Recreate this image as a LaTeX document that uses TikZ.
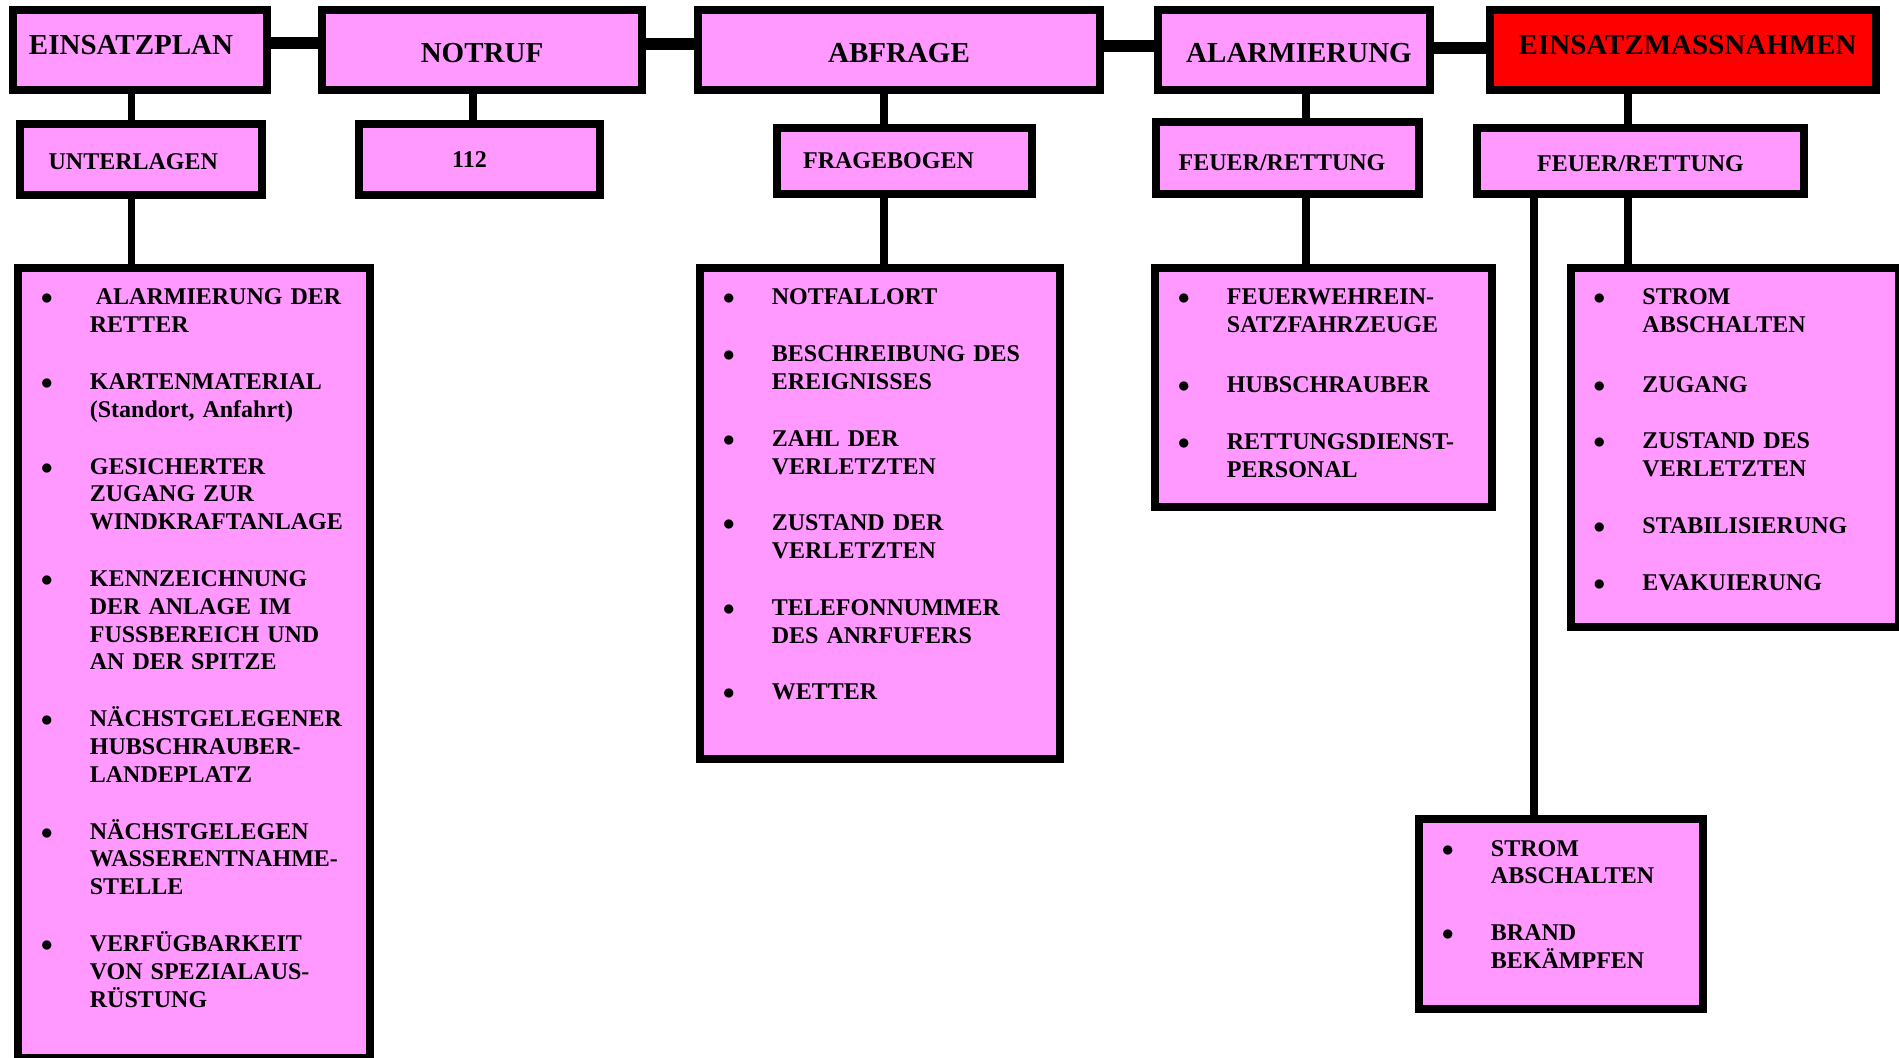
\documentclass[tikz,border=0pt]{standalone}
\usepackage{fontspec}
\setmainfont{Liberation Serif}
\definecolor{rosa}{HTML}{FF99FF}
\definecolor{rot}{HTML}{FF0000}
\newcommand\listsetup{\fontsize{12}{13.93}\selectfont\bfseries\parskip=14.4pt\lineskiplimit=-20pt\lineskip=0pt}
\newcommand\punkt[1]{\hangindent=23.5pt\hangafter=0\noindent\llap{\makebox[23.5pt][l]{\hspace*{-1pt}$\bullet$}}#1\par}
\tikzset{
  box/.style={draw=black, line width=4pt, fill=rosa, inner sep=0pt},
  kopf/.style={box, font=\fontsize{14.5}{17}\selectfont\bfseries, minimum height=40pt, text height=12.5pt, text depth=0pt},
  unter/.style={box, font=\fontsize{12}{14}\selectfont\bfseries, text height=7.9pt, text depth=0pt},
  punkte/.style={anchor=base west, inner sep=0pt, text width=165pt, align=left, font=\listsetup},
  quer/.style={line width=5.8pt},
  stiel/.style={line width=3.65pt},
}
\begin{document}
\begin{tikzpicture}[x=0.5pt, y=-0.5pt]
\useasboundingbox (0,0) rectangle (1899,1058);

\node[kopf, minimum width=127pt, text height=4.6pt] (plan) at (140,50) {EINSATZPLAN\hspace*{9pt}};
\node[kopf, minimum width=160pt] (notruf) at (482,50) {NOTRUF};
\node[kopf, minimum width=201pt] (abfrage) at (899,50) {ABFRAGE};
\node[kopf, minimum width=136pt] (alarm) at (1294,50) {\hspace*{5pt}ALARMIERUNG};
\node[kopf, minimum width=193pt, fill=rot, text height=4.6pt] (massn) at (1683,50) {\hspace*{4.6pt}EINSATZMASSNAHMEN};

\node[unter, minimum width=121pt, minimum height=35.5pt, text height=10.3pt] (unterlagen) at (141,159.5) {UNTERLAGEN\hspace*{7.7pt}};
\node[unter, minimum width=120.5pt, minimum height=35.5pt] (nr112) at (479.5,159.5) {112\hspace*{10pt}};
\node[unter, minimum width=127.5pt, minimum height=33pt] (frage) at (904.5,161) {FRAGEBOGEN\hspace*{16pt}};
\node[unter, minimum width=131.5pt, minimum height=36pt, text height=12.9pt] (feuera) at (1287.5,158) {FEUER/RETTUNG\hspace*{5.5pt}};
\node[unter, minimum width=163.5pt, minimum height=33pt, text height=10.3pt] (feuerb) at (1640.5,161) {FEUER/RETTUNG};

\node[box, minimum width=176pt, minimum height=395pt] (lplan) at (194,663) {};
\node[box, minimum width=180pt, minimum height=245.5pt] (lfrage) at (880,513.5) {};
\node[box, minimum width=168.5pt, minimum height=119.5pt] (lalarm) at (1323.5,387.5) {};
\node[box, minimum width=164pt, minimum height=179.5pt] (lmassn) at (1735,447.5) {};
\node[box, minimum width=142pt, minimum height=95pt] (lstrom) at (1561,914) {};

\draw[quer] ([yshift=3.35pt]plan.east) -- ([yshift=3.35pt]plan.east -| notruf.west);
\draw[quer] ([yshift=3.1pt]notruf.east) -- ([yshift=3.1pt]notruf.east -| abfrage.west);
\draw[quer] ([yshift=1.85pt]abfrage.east) -- ([yshift=1.85pt]abfrage.east -| alarm.west);
\draw[quer] ([yshift=0.85pt]alarm.east) -- ([yshift=0.85pt]alarm.east -| massn.west);

\draw[stiel] ([xshift=-4.25pt]plan.south) -- ([xshift=-4.25pt]plan.south |- unterlagen.north);
\draw[stiel] ([xshift=-4.75pt]unterlagen.south) -- ([xshift=-4.75pt]unterlagen.south |- lplan.north);
\draw[stiel] ([xshift=-4.5pt]notruf.south) -- ([xshift=-4.5pt]notruf.south |- nr112.north);
\draw[stiel] ([xshift=-7.5pt]abfrage.south) -- ([xshift=-7.5pt]abfrage.south |- frage.north);
\draw[stiel] ([xshift=-10.25pt]frage.south) -- ([xshift=-10.25pt]frage.south |- lfrage.north);
\draw[stiel] ([xshift=6pt]alarm.south) -- ([xshift=6pt]alarm.south |- feuera.north);
\draw[stiel] ([xshift=9.25pt]feuera.south) -- ([xshift=9.25pt]feuera.south |- lalarm.north);
\draw[stiel] ([xshift=-27.5pt]massn.south) -- ([xshift=-27.5pt]massn.south |- feuerb.north);
\draw[stiel] ([xshift=-6.25pt]feuerb.south) -- ([xshift=-6.25pt]feuerb.south |- lmassn.north);
\draw[stiel] ([xshift=-53.25pt]feuerb.south) -- ([xshift=-53.25pt]feuerb.south |- lstrom.north);

\node[punkte] (tplan) at ([shift={(28.5,41)}]lplan.north west) {\listsetup%
  \punkt{\hspace*{3pt}ALARMIERUNG DER\newline RETTER}
  \punkt{KARTENMATERIAL\newline (Standort, Anfahrt)}
  \punkt{GESICHERTER\newline ZUGANG ZUR\newline WINDKRAFTANLAGE}
  \punkt{KENNZEICHNUNG\newline DER ANLAGE IM\newline FUSSBEREICH UND\newline AN DER SPITZE}
  \punkt{NÄCHSTGELEGENER\newline HUBSCHRAUBER-\newline LANDEPLATZ}
  \punkt{NÄCHSTGELEGEN\newline WASSERENTNAHME-\newline STELLE}
  \punkt{VERFÜGBARKEIT\newline VON SPEZIALAUS-\newline RÜSTUNG}};
\node[punkte] (tfrage) at ([shift={(28.5,41)}]lfrage.north west) {\listsetup%
  \punkt{NOTFALLORT}
  \punkt{BESCHREIBUNG DES\newline EREIGNISSES}
  \punkt{ZAHL DER\newline VERLETZTEN}
  \punkt{ZUSTAND DER\newline VERLETZTEN}
  \punkt{TELEFONNUMMER\newline DES ANRFUFERS}
  \punkt{WETTER}};
\node[punkte] (talarm) at ([shift={(28.5,41)}]lalarm.north west) {\listsetup%
  \punkt{FEUERWEHREIN-\newline SATZFAHRZEUGE}\vspace{1.5pt}
  \punkt{HUBSCHRAUBER}
  \punkt{RETTUNGSDIENST-\newline PERSONAL}};
\node[punkte] (tmassn) at ([shift={(28,40.7)}]lmassn.north west) {\listsetup%
  \punkt{STROM\newline ABSCHALTEN}\vspace{1.5pt}
  \punkt{ZUGANG}
  \punkt{ZUSTAND DES\newline VERLETZTEN}
  \punkt{STABILISIERUNG}
  \punkt{EVAKUIERUNG}};
\node[punkte] (tstrom) at ([shift={(28.5,41)}]lstrom.north west) {\listsetup%
  \punkt{STROM\newline ABSCHALTEN}
  \punkt{BRAND\newline BEKÄMPFEN}};
\end{tikzpicture}
\end{document}
